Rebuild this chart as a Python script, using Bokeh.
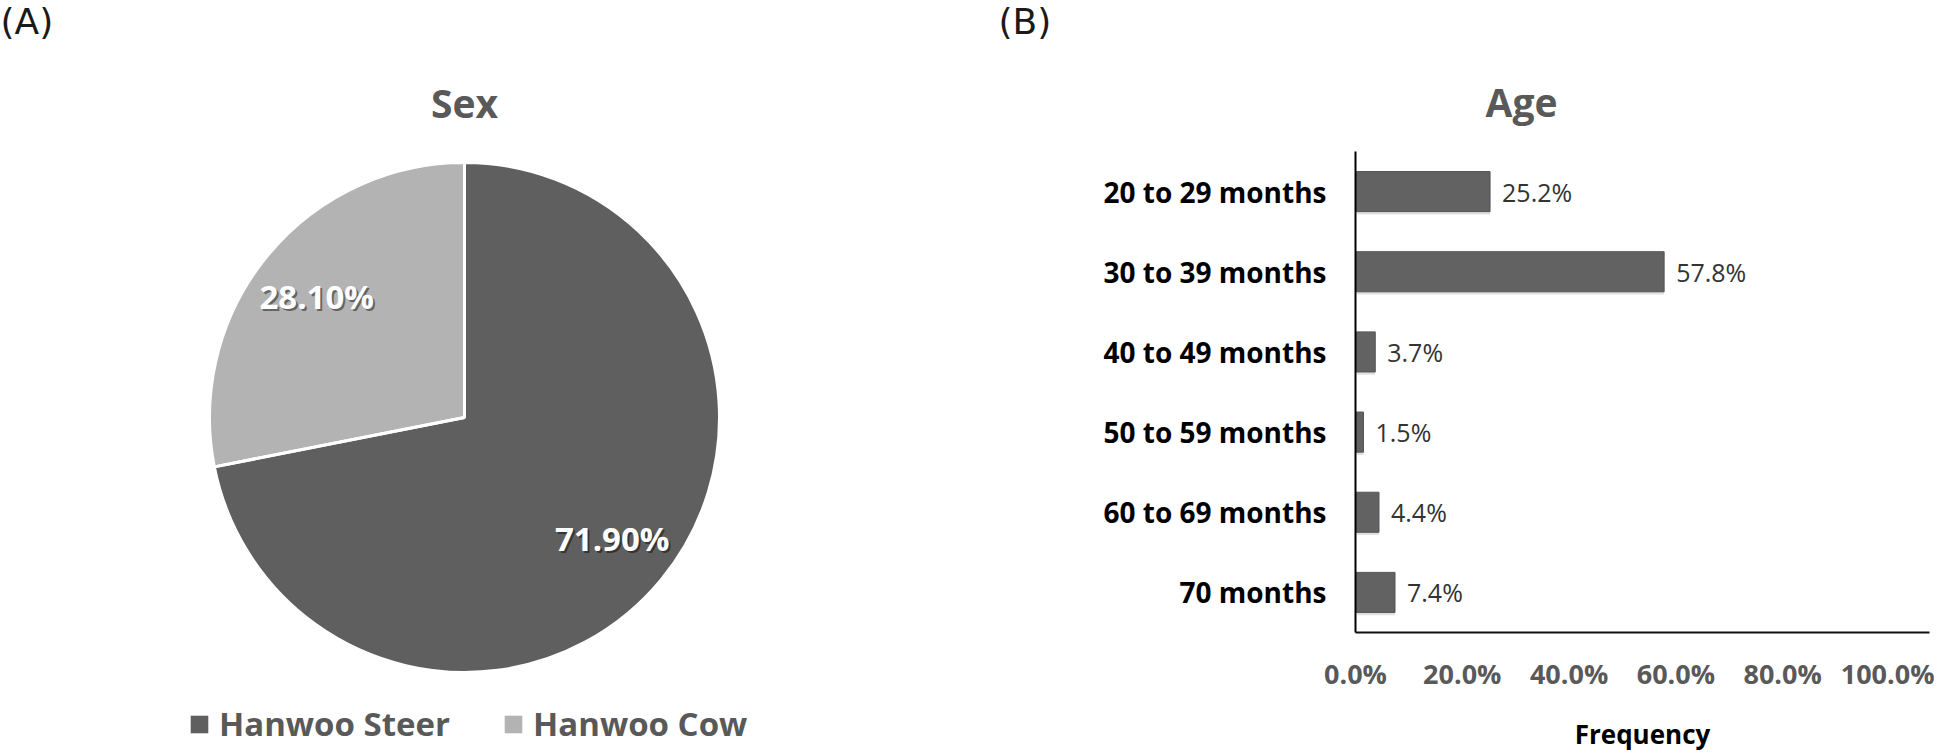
import math
from bokeh.plotting import figure
from bokeh.models import (ColumnDataSource, Range1d, FactorRange, Legend, LegendItem,
                          FixedTicker)
from bokeh.layouts import column, row
from bokeh.transform import dodge
from bokeh.core.properties import value
from bokeh.embed import file_html
from bokeh.resources import INLINE

# ---------------- data ----------------
panel_tags = ["(A)", "(B)"]
panel_titles = ["Sex", "Age"]

sex_labels = ["Hanwoo Steer", "Hanwoo Cow"]
sex_values = [71.9, 28.1]
sex_colors = ["#5f5f5f", "#b3b3b3"]

age_groups = ["20 to 29 months", "30 to 39 months", "40 to 49 months",
              "50 to 59 months", "60 to 69 months", "70 months"]
age_values = [25.2, 57.8, 3.7, 1.5, 4.4, 7.4]
x_ticks = [0, 20, 40, 60, 80, 100]
x_title = "Frequency"

FONT = "Open Sans"
GRAY = "#595959"

TOTAL_W, TOP_H, ROW_H = 1934, 151, 603
LEFT_W = 967
RIGHT_W = TOTAL_W - LEFT_W

# ---------------- top strip (tags + titles) ----------------
top = figure(width=TOTAL_W, height=TOP_H, x_range=Range1d(0, TOTAL_W), y_range=Range1d(TOP_H, 0),
             x_axis_type=None, y_axis_type=None, toolbar_location=None,
             output_backend="svg", min_border=0, frame_align=False, title_location=None)
top.grid.visible = False
top.outline_line_color = None
top.text(x=[0, 998], y=[0, 0], text=panel_tags, text_font=value("DejaVu Sans"),
         text_font_size="36px", text_color="#1a1a1a", text_baseline="top",
         text_align="left")
top.text(x=[464, 1521], y=[102, 101], text=panel_titles, text_font=value(FONT),
         text_font_size="39px", text_font_style="bold", text_color=GRAY,
         text_baseline="middle", text_align="center")

# ---------------- pie ----------------
pie = figure(width=LEFT_W, height=ROW_H, x_range=Range1d(0, LEFT_W), y_range=Range1d(0, ROW_H),
             x_axis_type=None, y_axis_type=None, toolbar_location=None,
             output_backend="svg", min_border=0, frame_align=False, title_location=None)
pie.grid.visible = False
pie.outline_line_color = None

cx, cy, R = 464, ROW_H - (417 - TOP_H), 255
total = sum(sex_values)
cum = 0.0
starts, ends, lx, ly, ltxt = [], [], [], [], []
for v in sex_values:
    e = math.pi / 2 - 2 * math.pi * cum / total
    cum += v
    s = math.pi / 2 - 2 * math.pi * cum / total
    starts.append(s)
    ends.append(e)
    m = (s + e) / 2
    lx.append(cx + 0.75 * R * math.cos(m))
    ly.append(cy + 0.75 * R * math.sin(m))
    ltxt.append(f"{v:.2f}%")

src = ColumnDataSource(dict(x=[cx] * len(sex_values), y=[cy] * len(sex_values),
                            start=starts, end=ends, color=sex_colors, label=sex_labels,
                            lx=lx, ly=ly, ltxt=ltxt))
wr = pie.wedge(x="x", y="y", radius=R, start_angle="start", end_angle="end",
               fill_color="color", line_color=None, source=src)
pie.wedge(x="x", y="y", radius=R, start_angle="start", end_angle="end",
          fill_alpha=0, line_color="white", line_width=3, source=src)
pie.text(x="lx", y="ly", text="ltxt", source=src, x_offset=2, y_offset=2,
         text_font=value(FONT), text_font_size="33px", text_font_style="bold",
         text_color="#000000", text_alpha=0.45, text_align="center", text_baseline="middle")
pie.text(x="lx", y="ly", text="ltxt", source=src,
         text_font=value(FONT), text_font_size="33px", text_font_style="bold",
         text_color="#ffffff", text_align="center", text_baseline="middle")

legend = Legend(items=[LegendItem(label=sex_labels[i], renderers=[wr], index=i)
                       for i in range(len(sex_labels))],
                orientation="horizontal", location=(188, 8),
                glyph_width=22, glyph_height=22, label_standoff=9, spacing=52,
                padding=0, margin=0, border_line_color=None, background_fill_alpha=0,
                label_text_font=FONT, label_text_font_size="33px",
                label_text_font_style="bold", label_text_color=GRAY)
pie.add_layout(legend)

# ---------------- bar chart ----------------
bar = figure(width=RIGHT_W, height=ROW_H,
             y_range=FactorRange(*reversed(age_groups), range_padding=0),
             x_range=Range1d(0, 107.5), toolbar_location=None, output_backend="svg",
             min_border_left=388, min_border_right=5, min_border_top=0, min_border_bottom=121,
             frame_align=False, title_location=None)
bar.grid.visible = False
bar.outline_line_color = None

bsrc = ColumnDataSource(dict(cat=age_groups, val=age_values,
                             lab=[f"{v:.1f}%" for v in age_values]))
bar.hbar(y=dodge("cat", -0.035, range=bar.y_range), left=0.3, right="val", height=0.5,
         source=bsrc, fill_color="#000000", fill_alpha=0.12, line_color=None)
bar.hbar(y="cat", left=0, right="val", height=0.5, source=bsrc,
         fill_color="#626262", line_color="#555555", line_width=1)
bar.text(x="val", y="cat", text="lab", source=bsrc, x_offset=12,
         text_font=value(FONT), text_font_size="25px", text_color="#333333",
         text_align="left", text_baseline="middle")

bar.xaxis.ticker = FixedTicker(ticks=x_ticks)
bar.xaxis.major_label_overrides = {t: f"{t:.1f}%" for t in x_ticks}
bar.xaxis.major_tick_line_color = None
bar.xaxis.minor_tick_line_color = None
bar.xaxis.axis_line_color = "#111111"
bar.xaxis.axis_line_width = 2
bar.xaxis.major_label_standoff = 16
bar.xaxis.major_label_text_font = FONT
bar.xaxis.major_label_text_font_size = "27px"
bar.xaxis.major_label_text_font_style = "bold"
bar.xaxis.major_label_text_color = GRAY
bar.xaxis.axis_label = x_title
bar.xaxis.axis_label_standoff = 21
bar.xaxis.axis_label_text_font = FONT
bar.xaxis.axis_label_text_font_size = "26px"
bar.xaxis.axis_label_text_font_style = "bold"
bar.xaxis.axis_label_text_color = "#000000"

bar.yaxis.major_tick_line_color = None
bar.yaxis.minor_tick_line_color = None
bar.yaxis.axis_line_color = "#000000"
bar.yaxis.axis_line_width = 2
bar.yaxis.major_label_standoff = 23
bar.yaxis.major_label_text_font = FONT
bar.yaxis.major_label_text_font_size = "28px"
bar.yaxis.major_label_text_font_style = "bold"
bar.yaxis.major_label_text_color = "#000000"

layout = column(top, row(pie, bar, spacing=0), spacing=0)
open("out.html", "w").write(file_html(layout, INLINE))
